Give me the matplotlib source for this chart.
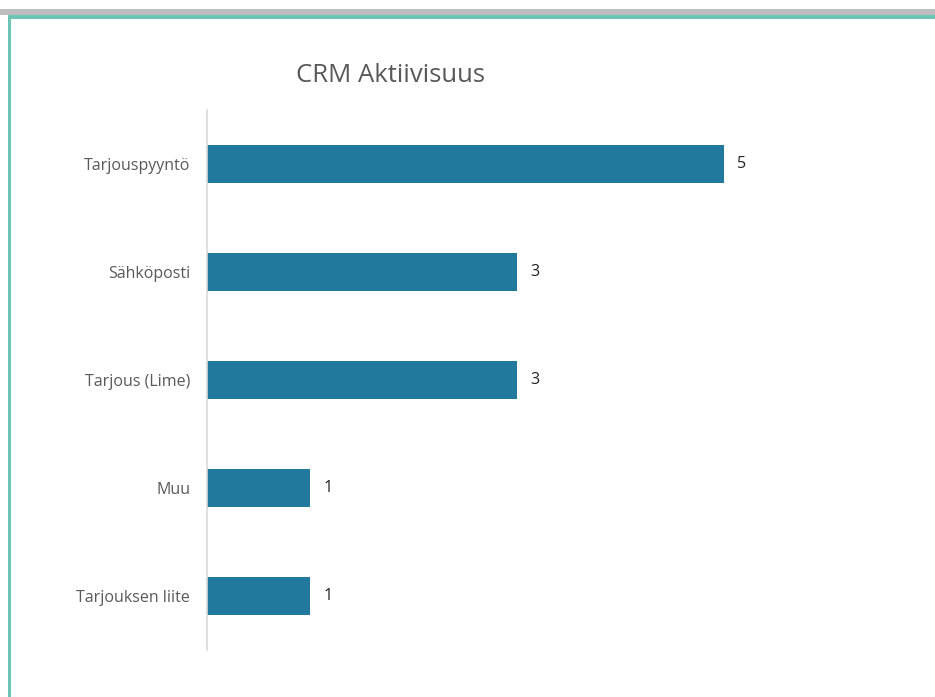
import matplotlib
matplotlib.use("Agg")
import matplotlib.pyplot as plt
from matplotlib.patches import Rectangle

categories = ["Tarjouspyyntö", "Sähköposti", "Tarjous (Lime)", "Muu", "Tarjouksen liite"]
values = [5, 3, 3, 1, 1]
title = "CRM Aktiivisuus"

plt.rcParams['font.family'] = ['Open Sans', 'DejaVu Sans']

W, H = 935, 697
fig = plt.figure(figsize=(W/100, H/100), dpi=100)
fig.patch.set_facecolor("white")

# frame decorations (gray band, teal lines)
fig.add_artist(Rectangle((0, 1 - 15/H), 1, 6/H, transform=fig.transFigure,
                         facecolor="#bdbdbd", edgecolor="none"))
fig.add_artist(Rectangle((8/W, 1 - 19/H), 1, 4/H, transform=fig.transFigure,
                         facecolor="#6cc4b4", edgecolor="none"))
fig.add_artist(Rectangle((8/W, 0), 2.5/W, 1 - 15/H, transform=fig.transFigure,
                         facecolor="#6cc4b4", edgecolor="none"))

left, right = 207/W, 827/W
bottom, top = 1 - 650/H, 1 - 110/H
ax = fig.add_axes([left, bottom, right - left, top - bottom])
y = list(range(len(categories)))
ax.barh(y, values, height=0.345, color="#22799e")
ax.set_xlim(0, 6)
ax.set_ylim(len(categories) - 0.5, -0.5)
ax.set_yticks(y)
ax.set_yticklabels(categories, fontsize=11.5, color="#595959")
ax.tick_params(axis="y", length=0, pad=12)
ax.set_xticks([])
for s in ["top", "right", "bottom"]:
    ax.spines[s].set_visible(False)
ax.spines["left"].set_color("#d9d9d9")
ax.spines["left"].set_linewidth(1.2)

for yi, v in zip(y, values):
    ax.annotate(str(v), (v, yi), xytext=(9.5, 0), textcoords="offset points",
                va="center", ha="left", fontsize=11.5, color="#222222")

fig.text(390/W, 1 - 76/H, title, ha="center", va="center", fontsize=18.5, color="#595959")

fig.savefig("out.png", dpi=100)
